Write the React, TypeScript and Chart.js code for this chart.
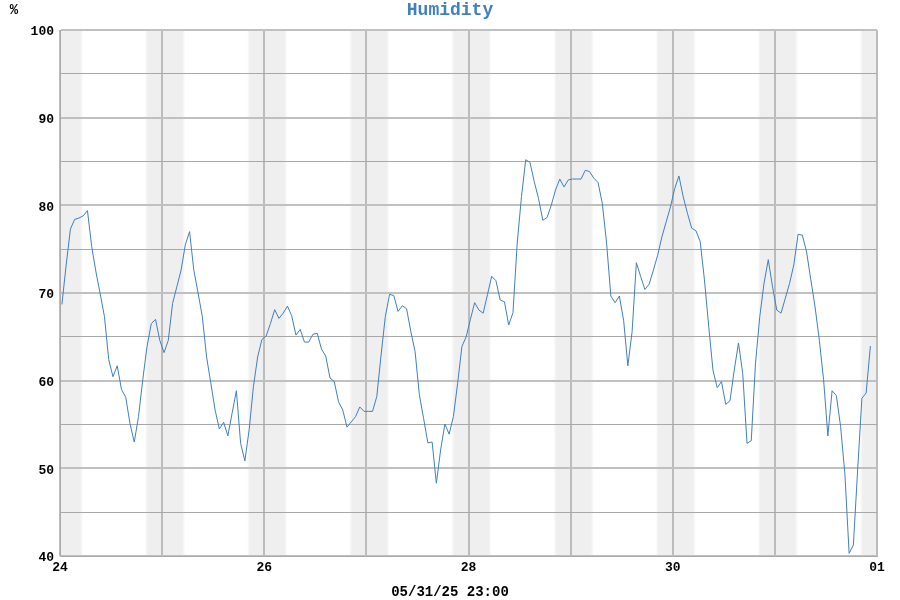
import React, { useEffect, useRef } from 'react';
import { Chart, registerables } from 'chart.js';

Chart.register(...registerables);

// Day labels for the x axis (one per day boundary, 24 May -> 01 June)
const dayLabels = ['24', '25', '26', '27', '28', '29', '30', '31', '01'];

// Hourly humidity readings (%), starting at 24th ~00:30
const humidity = [
  68.7, 73.2, 77.3, 78.4, 78.55, 78.8, 79.4, 75.3, 72.4, 69.9,
  67.3, 62.4, 60.45, 61.7, 59.0, 58.1, 55.1, 53.0, 55.9, 60.1,
  63.9, 66.5, 67.0, 64.6, 63.2, 64.6, 68.8, 70.7, 72.6, 75.5,
  77.0, 72.6, 70.0, 67.3, 62.7, 59.7, 56.65, 54.5, 55.25, 53.7,
  56.3, 58.85, 52.85, 50.85, 54.4, 59.3, 62.7, 64.7, 65.1, 66.5,
  68.1, 67.1, 67.7, 68.5, 67.4, 65.2, 65.85, 64.4, 64.4, 65.3,
  65.4, 63.6, 62.8, 60.3, 59.9, 57.6, 56.65, 54.7, 55.3, 55.9,
  57.0, 56.5, 56.5, 56.5, 58.2, 62.9, 67.3, 69.85, 69.7, 67.9,
  68.55, 68.2, 65.6, 63.3, 58.4, 55.7, 52.9, 53.0, 48.3, 52.1,
  55.05, 53.9, 55.9, 59.7, 63.9, 65.0, 67.0, 68.9, 68.05, 67.7,
  69.8, 71.9, 71.4, 69.2, 69.0, 66.35, 67.75, 75.7, 81.0, 85.2,
  84.9, 82.7, 80.8, 78.3, 78.6, 80.0, 81.75, 83.0, 82.1, 82.9,
  83.0, 83.0, 83.0, 84.0, 83.85, 83.1, 82.6, 80.2, 75.7, 69.65,
  68.9, 69.65, 66.9, 61.7, 65.6, 73.45, 71.9, 70.4, 71.0, 72.6,
  74.3, 76.4, 78.1, 79.8, 81.9, 83.35, 81.0, 79.1, 77.4, 77.1,
  75.85, 71.5, 66.2, 61.2, 59.2, 59.9, 57.3, 57.7, 61.2, 64.3,
  60.8, 52.85, 53.15, 62.0, 67.3, 71.1, 73.8, 70.7, 68.05, 67.7,
  69.4, 71.1, 73.2, 76.7, 76.6, 74.7, 71.5, 68.4, 64.6, 60.1,
  53.7, 58.85, 58.3, 54.75, 49.4, 40.3, 41.25, 49.8, 58.0, 58.6,
  63.95,
];

const firstSampleHour = 0.45;
const nightStartHour = 20.3;
const nightEndHour = 5.1;
const yMin = 40;
const yMax = 100;
const titleText = 'Humidity';
const unitText = '%';
const footerText = '05/31/25 23:00';

const FONT = '"Liberation Mono", "DejaVu Sans Mono", monospace';
const BLUE = '#3f80c0';

export default function App() {
  const ref = useRef<HTMLCanvasElement>(null);

  useEffect(() => {
    document.body.style.margin = '0';
    const canvas = ref.current;
    if (!canvas) return;
    const totalHours = (dayLabels.length - 1) * 24;
    const points = humidity.map((v, i) => ({ x: firstSampleHour + i, y: v }));

    const bgPlugin = {
      id: 'bgNights',
      beforeDraw(chart: any) {
        const { ctx, chartArea: a, scales } = chart;
        ctx.save();
        ctx.fillStyle = '#ffffff';
        ctx.fillRect(0, 0, chart.width, chart.height);
        const xs = scales.x;
        for (let d = -1; d < dayLabels.length; d++) {
          let s = d * 24 + nightStartHour;
          let e = (d + 1) * 24 + nightEndHour;
          s = Math.max(s, 0);
          e = Math.min(e, totalHours);
          if (e <= s) continue;
          const px0 = xs.getPixelForValue(s);
          const px1 = xs.getPixelForValue(e);
          const w = px1 - px0;
          const fade = 3;
          const g = ctx.createLinearGradient(px0 - fade / 2, 0, px1 + fade / 2, 0);
          const f = Math.min(0.45, fade / (w + fade));
          const edgeL = s <= 0 ? 'rgba(239,239,239,1)' : 'rgba(239,239,239,0)';
          const edgeR = e >= totalHours ? 'rgba(239,239,239,1)' : 'rgba(239,239,239,0)';
          g.addColorStop(0, edgeL);
          g.addColorStop(f, 'rgba(239,239,239,1)');
          g.addColorStop(1 - f, 'rgba(239,239,239,1)');
          g.addColorStop(1, edgeR);
          ctx.fillStyle = g;
          const x0 = Math.max(a.left, px0 - fade / 2);
          const x1 = Math.min(a.right, px1 + fade / 2);
          ctx.fillRect(x0, a.top, x1 - x0, a.bottom - a.top);
        }
        ctx.restore();
      },
      afterDraw(chart: any) {
        const { ctx } = chart;
        ctx.save();
        ctx.textAlign = 'center';
        ctx.textBaseline = 'middle';
        ctx.fillStyle = BLUE;
        ctx.font = `bold 18px ${FONT}`;
        ctx.fillText(titleText, 450, 10);
        ctx.fillStyle = '#000';
        ctx.font = `bold 14px ${FONT}`;
        ctx.fillText(unitText, 14, 10);
        ctx.font = `bold 14px ${FONT}`;
        ctx.fillText(footerText, 450, 592);
        ctx.restore();
      },
    };

    const chart = new Chart(canvas, {
      type: 'line',
      data: {
        datasets: [
          {
            data: points,
            borderColor: BLUE,
            borderWidth: 1,
            pointRadius: 0,
            tension: 0,
            fill: false,
          },
        ],
      },
      options: {
        animation: false,
        responsive: false,
        maintainAspectRatio: false,
        devicePixelRatio: 1,
        layout: { padding: { left: 0, top: 30, right: 23, bottom: 0 } },
        plugins: { legend: { display: false }, tooltip: { enabled: false }, title: { display: false } },
        scales: {
          x: {
            type: 'linear',
            min: 0,
            max: totalHours,
            afterFit: (s: any) => { s.height = 44; },
            afterBuildTicks: (s: any) => {
              s.ticks = dayLabels.map((_, i) => ({ value: i * 24 }));
            },
            ticks: {
              autoSkip: false,
              maxRotation: 0,
              padding: 4,
              color: '#000',
              font: { family: FONT, size: 13, weight: 'bold' },
              callback: (v: any) => {
                const i = Math.round(Number(v) / 24);
                return i % 2 === 0 ? dayLabels[i] : '';
              },
            },
            grid: { color: '#bcbcbc', lineWidth: 2, drawTicks: false },
            border: { color: '#aaaaaa', width: 1 },
          },
          y: {
            type: 'linear',
            min: yMin,
            max: yMax,
            afterFit: (s: any) => { s.width = 60; },
            ticks: {
              stepSize: 5,
              padding: 6,
              labelOffset: 2,
              color: '#000',
              font: { family: FONT, size: 13, weight: 'bold' },
              callback: (v: any) => (Number(v) % 10 === 0 ? String(v) : ''),
            },
            grid: {
              drawTicks: false,
              color: (c: any) => (c.tick && c.tick.value % 10 === 0 ? '#c0c0c0' : '#a8a8a8'),
              lineWidth: (c: any) => (c.tick && c.tick.value % 10 === 0 ? 2 : 1),
            },
            border: { color: '#aaaaaa', width: 1 },
          },
        },
      },
      plugins: [bgPlugin],
    });
    return () => chart.destroy();
  }, []);

  return <canvas ref={ref} width={900} height={600} style={{ display: 'block', width: 900, height: 600 }} />;
}
